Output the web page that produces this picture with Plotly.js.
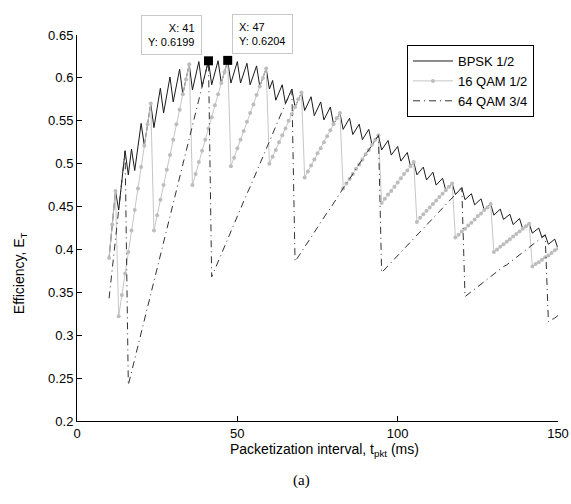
<!DOCTYPE html>
<html>
<head>
<meta charset="utf-8">
<script src="https://cdn.plot.ly/plotly-3.0.1.min.js"></script>
<style>html,body{margin:0;padding:0;background:#fff;}#chart{width:571px;height:504px;}</style>
</head>
<body>
<div id="chart"></div>
<script>
const tPkt = [10,11,12,13,14,15,16,17,18,19,20,21,22,23,24,25,26,27,28,29,30,31,32,33,34,35,36,37,38,39,40,41,42,43,44,45,46,47,48,49,50,51,52,53,54,55,56,57,58,59,60,61,62,63,64,65,66,67,68,69,70,71,72,73,74,75,76,77,78,79,80,81,82,83,84,85,86,87,88,89,90,91,92,93,94,95,96,97,98,99,100,101,102,103,104,105,106,107,108,109,110,111,112,113,114,115,116,117,118,119,120,121,122,123,124,125,126,127,128,129,130,131,132,133,134,135,136,137,138,139,140,141,142,143,144,145,146,147,148,149,150];

const bpsk12 = [0.390,0.429,0.468,0.446,0.480,0.515,0.487,0.517,0.492,0.519,0.547,0.521,0.546,0.570,0.542,0.565,0.588,0.559,0.580,0.601,0.572,0.591,0.610,0.581,0.598,0.616,0.586,0.603,0.619,0.590,0.605,0.620,0.592,0.606,0.620,0.594,0.607,0.620,0.594,0.607,0.619,0.594,0.605,0.617,0.592,0.603,0.614,0.590,0.600,0.611,0.587,0.597,0.574,0.583,0.592,0.570,0.578,0.587,0.566,0.575,0.583,0.562,0.570,0.578,0.556,0.564,0.572,0.551,0.558,0.566,0.546,0.553,0.559,0.540,0.546,0.553,0.534,0.540,0.546,0.528,0.534,0.540,0.522,0.528,0.533,0.516,0.521,0.527,0.510,0.515,0.520,0.503,0.508,0.513,0.497,0.502,0.487,0.491,0.496,0.481,0.485,0.490,0.475,0.479,0.483,0.469,0.473,0.477,0.464,0.468,0.472,0.458,0.462,0.465,0.452,0.455,0.459,0.446,0.449,0.453,0.440,0.444,0.447,0.435,0.438,0.441,0.429,0.432,0.436,0.424,0.427,0.430,0.419,0.422,0.425,0.414,0.417,0.406,0.409,0.412,0.401];

const qam16 = [0.390,0.429,0.468,0.322,0.347,0.372,0.397,0.422,0.446,0.471,0.496,0.521,0.546,0.570,0.422,0.440,0.458,0.475,0.493,0.510,0.528,0.546,0.563,0.581,0.598,0.616,0.475,0.488,0.502,0.515,0.528,0.541,0.554,0.568,0.581,0.594,0.607,0.6204,0.497,0.507,0.518,0.528,0.538,0.549,0.559,0.569,0.580,0.590,0.600,0.611,0.500,0.508,0.516,0.525,0.533,0.541,0.550,0.558,0.566,0.575,0.583,0.484,0.491,0.498,0.505,0.512,0.518,0.525,0.532,0.539,0.546,0.553,0.559,0.471,0.477,0.482,0.488,0.494,0.499,0.505,0.511,0.516,0.522,0.528,0.533,0.454,0.459,0.464,0.468,0.473,0.478,0.483,0.488,0.492,0.497,0.502,0.432,0.437,0.441,0.445,0.449,0.453,0.457,0.461,0.465,0.469,0.473,0.477,0.414,0.417,0.421,0.424,0.428,0.431,0.435,0.439,0.442,0.446,0.449,0.453,0.397,0.400,0.403,0.406,0.409,0.412,0.415,0.418,0.421,0.424,0.427,0.430,0.380,0.383,0.385,0.388,0.391,0.393,0.396,0.399,0.401];

const qam64 = [0.343,0.377,0.412,0.446,0.480,0.515,0.242,0.257,0.272,0.287,0.302,0.318,0.333,0.348,0.363,0.378,0.393,0.408,0.423,0.439,0.454,0.469,0.484,0.499,0.514,0.529,0.544,0.559,0.575,0.590,0.605,0.6199,0.368,0.377,0.386,0.394,0.403,0.412,0.421,0.429,0.438,0.447,0.456,0.465,0.473,0.482,0.491,0.500,0.508,0.517,0.526,0.535,0.543,0.552,0.561,0.570,0.578,0.587,0.386,0.391,0.397,0.403,0.408,0.414,0.420,0.426,0.431,0.437,0.443,0.448,0.454,0.460,0.465,0.471,0.477,0.482,0.488,0.494,0.499,0.505,0.511,0.516,0.522,0.528,0.533,0.373,0.377,0.381,0.385,0.389,0.393,0.397,0.401,0.405,0.409,0.413,0.417,0.421,0.424,0.428,0.432,0.436,0.440,0.444,0.448,0.452,0.456,0.460,0.464,0.468,0.472,0.345,0.348,0.351,0.354,0.357,0.360,0.362,0.365,0.368,0.371,0.374,0.377,0.380,0.382,0.385,0.388,0.391,0.394,0.397,0.400,0.402,0.405,0.408,0.411,0.414,0.417,0.316,0.318,0.320,0.323];

const seriesNames = ['BPSK 1/2', '16 QAM 1/2', '64 QAM 3/4'];
const tipX = [41, 47];
const tipY = [0.6199, 0.6204];
const xTicks = [0, 50, 100, 150];
const yTicks = [0.2, 0.25, 0.3, 0.35, 0.4, 0.45, 0.5, 0.55, 0.6, 0.65];
const yTickText = ['0.2','0.25','0.3','0.35','0.4','0.45','0.5','0.55','0.6','0.65'];

const FONT = 'Arial, "Liberation Sans", Helvetica, sans-serif';

const traces = [
  {x: tPkt, y: bpsk12, name: seriesNames[0], type: 'scatter', mode: 'lines',
   line: {color: '#1a1a1a', width: 1}},
  {x: tPkt, y: qam16, name: seriesNames[1], type: 'scatter', mode: 'lines+markers',
   line: {color: '#c6c6c6', width: 1}, marker: {color: '#bdbdbd', size: 4, symbol: 'circle'}},
  {x: tPkt, y: qam64, name: seriesNames[2], type: 'scatter', mode: 'lines',
   line: {color: '#333333', width: 1, dash: '7px,4px,1px,4px'}},
  {x: tipX, y: tipY, type: 'scatter', mode: 'markers', showlegend: false,
   marker: {color: '#000', size: 9, symbol: 'square'}}
];

const axisCommon = {
  showline: true, linecolor: '#000', linewidth: 1, mirror: false,
  ticks: 'inside', ticklen: 5, tickcolor: '#000', tickwidth: 1,
  showgrid: false, zeroline: false,
  tickfont: {family: FONT, size: 13, color: '#000'}
};

const layout = {
  width: 571, height: 504,
  margin: {l: 77, r: 13, t: 35, b: 83},
  paper_bgcolor: '#fff', plot_bgcolor: '#fff',
  showlegend: true,
  legend: {x: 0.686, y: 0.974, xanchor: 'left', yanchor: 'top',
           bordercolor: '#000', borderwidth: 1, bgcolor: '#fff',
           font: {family: FONT, size: 13, color: '#000'}, itemwidth: 40},
  xaxis: Object.assign({}, axisCommon, {range: [0, 150], tickvals: xTicks}),
  yaxis: Object.assign({}, axisCommon, {range: [0.2, 0.65], tickvals: yTicks, ticktext: yTickText}),
  annotations: [
    {x: tipX[0], y: tipY[0], xref: 'x', yref: 'y', showarrow: false,
     text: 'X: ' + tipX[0] + '<br>Y: ' + tipY[0], align: 'right',
     xanchor: 'right', yanchor: 'bottom', xshift: -6, yshift: 6,
     bgcolor: '#fff', bordercolor: '#c8c8c8', borderwidth: 1, borderpad: 6,
     font: {family: FONT, size: 11, color: '#000'}},
    {x: tipX[1], y: tipY[1], xref: 'x', yref: 'y', showarrow: false,
     text: 'X: ' + tipX[1] + '<br>Y: ' + tipY[1], align: 'left',
     xanchor: 'left', yanchor: 'bottom', xshift: 4, yshift: 6,
     bgcolor: '#fff', bordercolor: '#c8c8c8', borderwidth: 1, borderpad: 6,
     font: {family: FONT, size: 11, color: '#000'}},
    {x: 0.514, y: -0.046, xref: 'paper', yref: 'paper', showarrow: false,
     text: 'Packetization interval, t<sub>pkt</sub> (ms)', xanchor: 'center', yanchor: 'top',
     font: {family: FONT, size: 14, color: '#000'}},
    {x: -0.1185, y: 0.383, xref: 'paper', yref: 'paper', showarrow: false, textangle: -90,
     text: 'Efficiency, E<sub>T</sub>', xanchor: 'center', yanchor: 'middle',
     font: {family: FONT, size: 14, color: '#000'}},
    {x: 0.466, y: -0.153, xref: 'paper', yref: 'paper', showarrow: false,
     text: '(a)', xanchor: 'center', yanchor: 'middle',
     font: {family: '"Times New Roman", "Liberation Serif", serif', size: 15, color: '#000'}}
  ]
};

Plotly.newPlot('chart', traces, layout, {staticPlot: true, displayModeBar: false});
</script>
</body>
</html>
